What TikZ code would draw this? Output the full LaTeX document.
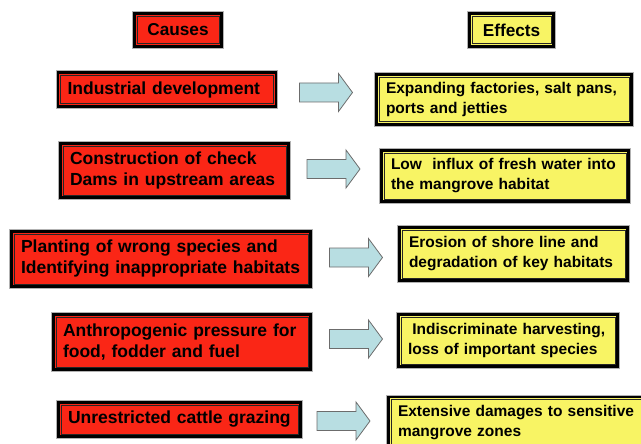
\documentclass[tikz,border=0pt]{standalone}
\usepackage{fontspec}
\setmainfont{Liberation Sans}

\definecolor{causered}{RGB}{250,38,22}
\definecolor{effectyellow}{RGB}{248,244,100}
\definecolor{arrowblue}{RGB}{184,222,226}

\begin{document}
\begin{tikzpicture}[x=1pt, y=-1pt]
                \tikzset{
                    box/.style={draw=black, line width=2.5pt, preaction={draw=gray!60, line width=4.5pt},
                        inner xsep=6.5pt, inner ysep=0pt, align=left,
                        execute at begin node={\hyphenpenalty=10000\leftskip=3pt},
                        path picture={\draw[line width=0.8pt, black!85]
                            ([shift={(2.6pt,-2.6pt)}]path picture bounding box.north west) rectangle
                            ([shift={(-2.6pt,2.6pt)}]path picture bounding box.south east);}},
                    header/.style={box, align=center, font=\bfseries\fontsize{17.2}{20}\selectfont},
                    cause/.style={box, fill=causered, text width=#1, font=\bfseries\fontsize{17.5}{21}\selectfont},
                    effect/.style={box, fill=effectyellow, text width=#1, font=\bfseries\fontsize{15.5}{20}\selectfont},
                    blockarrow/.pic={
                        \draw[draw=gray!85!black, fill=arrowblue, line width=0.8pt, line join=miter]
                            (-26.5,-9.5) -- (12.5,-9.5) -- (12.5,-19) -- (26.5,0) -- (12.5,19)
                            -- (12.5,9.5) -- (-26.5,9.5) -- cycle;
                    }
                }
                \useasboundingbox (0,0) rectangle (641,444);

                \node[header, fill=causered, minimum width=87pt, minimum height=33pt] (causes) at (178,30) {Causes};
                \node[header, fill=effectyellow, minimum width=84pt, minimum height=33pt] (effects) at (511.5,30) {Effects};

                \node[cause=205pt, minimum height=34pt] (c1) at (167,89.5) {Industrial development};
                \node[cause=215pt, minimum height=54pt] (c2) at (174.5,170.5) {Construction of check\\Dams in upstream areas};
                \node[cause=286pt, minimum height=55pt] (c3) at (161,259) {Planting of wrong species and\\Identifying inappropriate habitats};
                \node[cause=244pt, minimum height=55pt] (c4) at (182,342) {Anthropogenic pressure for\\food, fodder and fuel};
                \node[cause=229pt, minimum height=34pt] (c5) at (179.5,419.5) {Unrestricted cattle grazing};

                \pic (a1) at (326,92.5) {blockarrow};
                \pic (a2) at (333.5,169) {blockarrow};
                \pic (a3) at (356,257.5) {blockarrow};
                \pic (a4) at (356,339) {blockarrow};
                \pic (a5) at (343.5,421) {blockarrow};

                \node[effect=242pt, minimum height=50pt] (e1) at (504,99.5) {Expanding factories, salt pans,\\ports and jetties};
                \node[effect=234pt, minimum height=51pt] (e2) at (505,176) {Low\ \ influx of fresh water into\\the mangrove habitat};
                \node[effect=215pt, minimum height=53pt] (e3) at (513.5,254) {Erosion of shore line and\\degradation of key habitats};
                \node[effect=206pt, minimum height=52pt] (e4) at (508,340.5) {\hspace*{4.3pt}Indiscriminate harvesting,\\loss of important species};
                \node[effect=256pt, minimum height=52pt] (e5) at (523,423) {Extensive damages to sensitive\\mangrove zones};

            \end{tikzpicture}
\end{document}
